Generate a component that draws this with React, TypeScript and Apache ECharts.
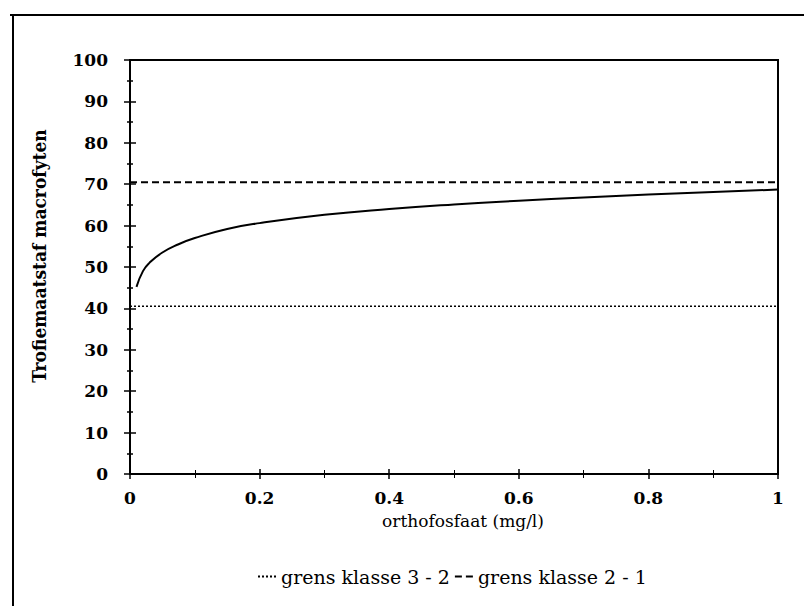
import React, { useEffect, useRef } from "react";
import * as echarts from "echarts";

const curveX = [0.01, 0.02, 0.03, 0.05, 0.075, 0.1, 0.15, 0.2, 0.3, 0.4, 0.5, 0.6, 0.7, 0.8, 0.9, 1.0];
const curveY = [45.2, 49.0, 51.0, 53.5, 55.5, 57.0, 59.2, 60.6, 62.6, 64.0, 65.1, 66.0, 66.8, 67.5, 68.1, 68.7];
const grens32 = 40.5;
const grens21 = 70.5;
const legendNames = ["grens klasse 3 - 2", "grens klasse 2 - 1"];
const xTitle = "orthofosfaat (mg/l)";
const yTitle = "Trofiemaatstaf macrofyten";

const FONT = "DejaVu Serif";

export default function App() {
  const ref = useRef<HTMLDivElement>(null);
  useEffect(() => {
    if (!ref.current) return;
    const chart = echarts.init(ref.current, undefined, { renderer: "svg" });
    const labelStyle = { color: "#000", fontFamily: FONT, fontSize: 17, fontWeight: "bold" as const };
    const baseX = {
      type: "value" as const,
      min: 0,
      max: 1,
      interval: 0.2,
      position: "bottom" as const,
      splitLine: { show: false },
    };
    const baseY = {
      type: "value" as const,
      min: 0,
      max: 100,
      interval: 10,
      position: "left" as const,
      splitLine: { show: false },
    };
    chart.setOption({
      animation: false,
      backgroundColor: "#fff",
      grid: {
        left: 130,
        right: 26,
        top: 60,
        bottom: 132,
        show: true,
        borderColor: "#000",
        borderWidth: 2,
      },
      graphic: [
        { type: "line", shape: { x1: 13, y1: 15, x2: 13, y2: 606 }, style: { stroke: "#000", lineWidth: 2 } },
        { type: "line", shape: { x1: 10, y1: 15, x2: 804, y2: 15 }, style: { stroke: "#000", lineWidth: 2 } },
      ],
      xAxis: [
        {
          ...baseX,
          name: xTitle,
          nameLocation: "middle",
          nameGap: 38,
          nameTextStyle: { ...labelStyle, fontWeight: "normal", padding: [0, 0, 0, 18] },
          axisLine: { show: true, lineStyle: { color: "#000", width: 2 } },
          axisTick: { show: true, inside: false, length: 5, lineStyle: { color: "#000", width: 1.5 } },
          minorTick: { show: true, splitNumber: 2, length: 4, lineStyle: { color: "#000", width: 1 } },
          axisLabel: { ...labelStyle, margin: 15 },
        },
        {
          ...baseX,
          axisLine: { show: false },
          axisTick: { show: true, inside: true, length: 5, lineStyle: { color: "#000", width: 1.5 } },
          minorTick: { show: true, splitNumber: 2, length: 4, lineStyle: { color: "#000", width: 1 } },
          axisLabel: { show: false },
        },
      ],
      yAxis: [
        {
          ...baseY,
          name: yTitle,
          nameLocation: "middle",
          nameGap: 82,
          nameRotate: 90,
          nameTextStyle: {
            ...labelStyle,
            fontFamily: "DejaVu Serif Condensed",
            fontSize: 19,
            padding: [0, 0, 0, 22],
          },
          axisLine: { show: true, lineStyle: { color: "#000", width: 2 } },
          axisTick: { show: true, inside: false, length: 6, lineStyle: { color: "#000", width: 1.5 } },
          minorTick: { show: true, splitNumber: 2, length: 3, lineStyle: { color: "#000", width: 1.5 } },
          axisLabel: { ...labelStyle, margin: 22 },
        },
        {
          ...baseY,
          axisLine: { show: false },
          axisTick: { show: true, inside: true, length: 6, lineStyle: { color: "#000", width: 1.5 } },
          minorTick: { show: true, splitNumber: 2, length: 3, lineStyle: { color: "#000", width: 1.5 } },
          axisLabel: { show: false },
        },
      ],
      legend: {
        show: true,
        left: 252,
        top: 562,
        itemWidth: 20,
        itemHeight: 10,
        itemGap: 4,
        itemStyle: { opacity: 0 },
        textStyle: { ...labelStyle, fontSize: 19, fontWeight: "normal", padding: [0, 0, 0, -2] },
        data: legendNames,
      },
      series: [
        {
          type: "line",
          name: "curve",
          data: curveX.map((x, i) => [x, curveY[i]]),
          smooth: true,
          showSymbol: false,
          symbol: "none",
          lineStyle: { color: "#000", width: 2 },
        },
        {
          type: "line",
          name: legendNames[0],
          data: [[0, grens32], [1, grens32]],
          showSymbol: false,
          symbol: "none",
          itemStyle: { color: "#000" },
          lineStyle: { color: "#000", width: 1.5, type: [2, 2] },
        },
        {
          type: "line",
          name: legendNames[1],
          data: [[0, grens21], [1, grens21]],
          showSymbol: false,
          symbol: "none",
          itemStyle: { color: "#000" },
          lineStyle: { color: "#000", width: 2, type: [7, 4] },
        },
      ],
    });
    return () => chart.dispose();
  }, []);
  return (
    <div
      ref={ref}
      style={{ position: "absolute", left: 0, top: 0, width: 804, height: 606 }}
    />
  );
}
